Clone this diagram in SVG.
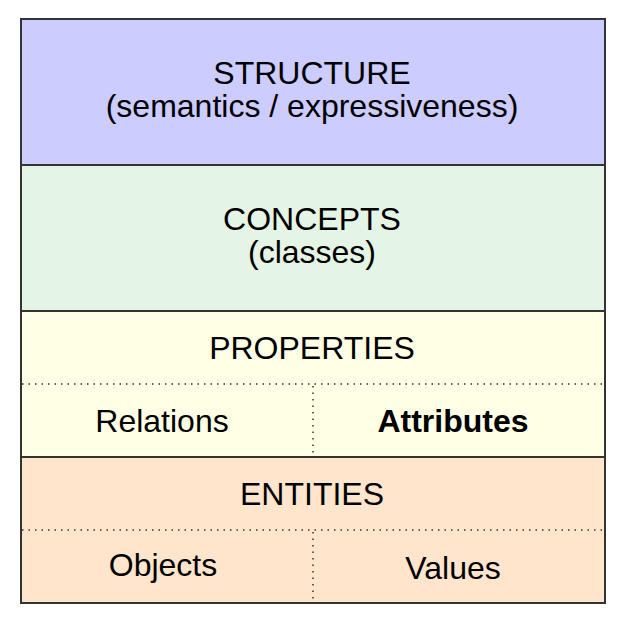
<svg xmlns="http://www.w3.org/2000/svg" width="624" height="622" viewBox="0 0 624 622">
<style>
.band{stroke:#333;stroke-width:2}
.dot{stroke:#333;stroke-width:1.5;stroke-dasharray:1.5 5;fill:none}
text{font-family:"Liberation Sans",Arial,sans-serif;font-size:32px;fill:#000;text-anchor:middle}
.b{font-weight:bold}
</style>
<rect width="624" height="622" fill="#fff"/>
<g id="structure">
<rect class="band" x="21" y="19" width="584" height="146" fill="#ccccff"/>
<text x="312" y="84">STRUCTURE</text>
<text x="312" y="117">(semantics / expressiveness)</text>
</g>
<g id="concepts">
<rect class="band" x="21" y="165" width="584" height="146" fill="#e5f5e5"/>
<text x="312" y="230">CONCEPTS</text>
<text x="312" y="263">(classes)</text>
</g>
<g id="properties">
<rect class="band" x="21" y="311" width="584" height="146" fill="#ffffe5"/>
<text x="312" y="359">PROPERTIES</text>
<text x="162" y="432">Relations</text>
<text class="b" x="453" y="432">Attributes</text>
</g>
<g id="entities">
<rect class="band" x="21" y="457" width="584" height="146" fill="#ffe5cc"/>
<text x="312" y="505">ENTITIES</text>
<text x="163" y="576">Objects</text>
<text x="453" y="579">Values</text>
</g>
<g id="connectors">
<line class="dot" x1="22" y1="384" x2="604" y2="384"/>
<line class="dot" x1="313" y1="386" x2="313" y2="456"/>
<line class="dot" x1="22" y1="530" x2="604" y2="530"/>
<line class="dot" x1="313" y1="532" x2="313" y2="602"/>
</g>
</svg>
